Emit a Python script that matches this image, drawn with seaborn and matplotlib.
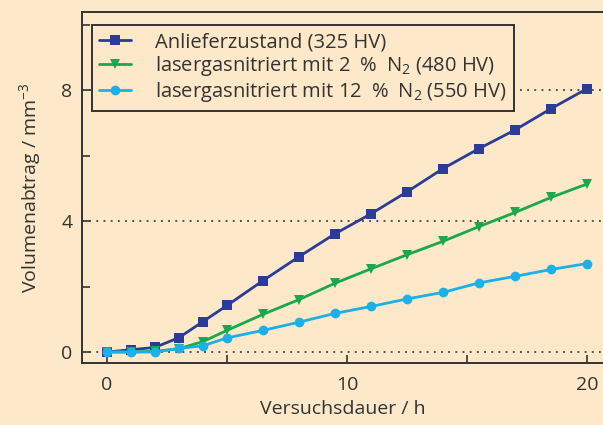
import matplotlib
matplotlib.use("Agg")
import matplotlib.pyplot as plt
import seaborn as sns
import pandas as pd
from matplotlib.ticker import MultipleLocator

hours = [0, 1, 2, 3, 4, 5, 6.5, 8, 9.5, 11, 12.5, 14, 15.5, 17, 18.5, 20]
anliefer = [0, 0.07, 0.14, 0.44, 0.93, 1.42, 2.18, 2.91, 3.61, 4.22, 4.89, 5.60, 6.21, 6.78, 7.43, 8.04]
n2_2 = [0, 0.0, 0.02, 0.1, 0.32, 0.66, 1.15, 1.6, 2.1, 2.54, 2.97, 3.38, 3.83, 4.26, 4.72, 5.13]
n2_12 = [0, 0.0, 0.0, 0.11, 0.19, 0.43, 0.66, 0.91, 1.18, 1.39, 1.62, 1.82, 2.11, 2.31, 2.52, 2.70]

labels = ["Anlieferzustand (325 HV)",
          "lasergasnitriert mit 2\u2002%\u2002N$_\\mathregular{2}$ (480 HV)",
          "lasergasnitriert mit 12\u2002%\u2002N$_\\mathregular{2}$ (550 HV)"]
colors = ["#2B3C98", "#19A94B", "#1BB0E8"]
markers = ["s", "v", "o"]
msizes = [6.5, 7, 7]

bg = "#FDE9C9"
txt = "#333333"

sns.set_theme(style="ticks")
plt.rcParams["font.family"] = ["Open Sans", "DejaVu Sans"]
plt.rcParams["mathtext.default"] = "regular"

fig = plt.figure(figsize=(6.03, 4.25), dpi=100, facecolor=bg)
ax = fig.add_axes([82/603, 1-363/425, 1-82/603, (363-11.5)/425])
ax.set_facecolor(bg)

for ys, lab, c, m, ms in zip([anliefer, n2_2, n2_12], labels, colors, markers, msizes):
    df = pd.DataFrame({"x": hours, "y": ys})
    sns.lineplot(data=df, x="x", y="y", ax=ax, color=c, marker=m, markersize=ms,
                 markeredgewidth=0, linewidth=2.0, label=lab)

ax.set_xlim(-25/24, (603-107)/24)
ax.set_ylim(-(363-352)/32.75, (352-11.5)/32.75)

ax.xaxis.set_major_locator(MultipleLocator(10))
ax.xaxis.set_minor_locator(MultipleLocator(5))
ax.yaxis.set_major_locator(MultipleLocator(4))
ax.yaxis.set_minor_locator(MultipleLocator(2))
ax.tick_params(which="both", direction="in", length=6, width=1.2, color=txt,
               labelsize=14, labelcolor=txt, top=False, right=False)
ax.tick_params(axis="x", pad=9)
ax.tick_params(axis="y", pad=7)

ax.grid(False)
ax.yaxis.grid(True, which="major", linestyle=(0, (1.2, 3.5)), color="#222222", linewidth=1.1)

for s in ["left", "bottom", "top"]:
    ax.spines[s].set_color(txt)
    ax.spines[s].set_linewidth(1.4)
ax.spines["right"].set_visible(False)

ax.set_xlabel("Versuchsdauer / h", fontsize=14, color=txt, labelpad=5)
ax.set_ylabel(r"Volumenabtrag / mm$^{\mathregular{-3}}$", fontsize=14, color=txt, labelpad=13)

leg = ax.legend(loc="upper left", bbox_to_anchor=(92/603, 1-25/425), bbox_transform=fig.transFigure,
                borderaxespad=0, fontsize=14.5, frameon=True, fancybox=False, framealpha=1,
                facecolor=bg, edgecolor=txt, handlelength=1.6, handletextpad=1.2,
                labelspacing=0.1, borderpad=0.35)
leg.get_frame().set_linewidth(1.4)
for t in leg.get_texts():
    t.set_color(txt)

fig.savefig("out.png", dpi=100, facecolor=bg)
